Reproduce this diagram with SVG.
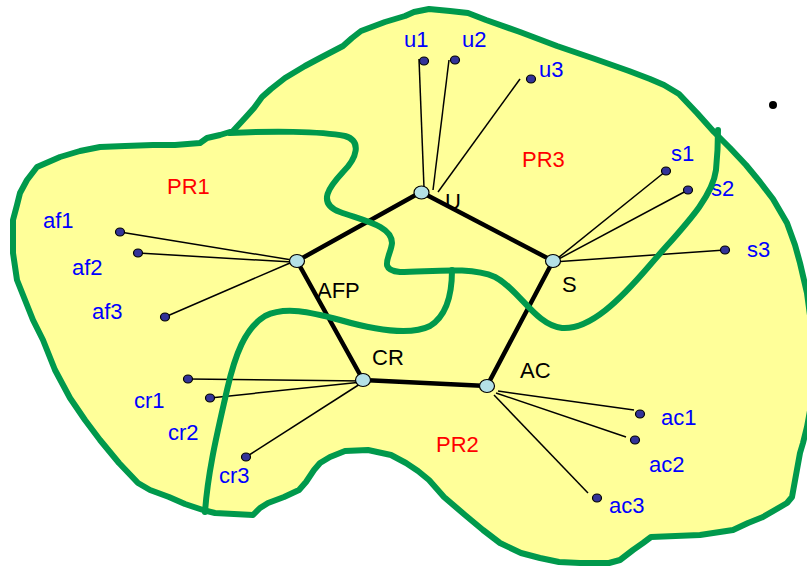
<svg xmlns="http://www.w3.org/2000/svg" width="807" height="571" viewBox="0 0 807 571">
<style>
.lbl{font-family:"Liberation Sans",Arial,sans-serif;font-size:22px}
.leaf{fill:#0000FF}
.pr{fill:#FF0000}
.hub{fill:#000}
.thick{stroke:#000;stroke-width:4.5;fill:none;stroke-linecap:round}
.thin{stroke:#000;stroke-width:1.5;fill:none}
.hubn{fill:#B4E1E6;stroke:#000;stroke-width:1.2}
.dot{fill:#333399;stroke:#000;stroke-width:1.2}
.green{fill:none;stroke:#00994C;stroke-width:6;stroke-linejoin:round;stroke-linecap:round}
</style>
<rect width="807" height="571" fill="#fff"/>
<path id="region-fill" fill="#FFFF99" d="M233,131 L245,118 L254,108 L262,97 L271,89 L285,78 L305,66 L320,58 L343,46 L352,38 L361,31 L385,22 L405,16 L414,12 L429,9 L450,11 L468,13 L486,20 L520,32 L557,46 L595,59 L629,71 L650,79 L664,85 L679,94 L697,113 L714,132 L730,148 L746,165 L760,182 L773,199 L787,223 L795,245 L800,263 L807,293 L812,330 L812,400 L807,427 L803,443 L800,453 L796,475 L792,497 L787,503 L763,517 L748,523 L733,530 L700,535 L651,537 L643,543 L633,550 L620,560 L609,563 L580,563 L559,562 L540,558 L521,553 L500,543 L483,530 L465,515 L444,497 L429,480 L418,471 L406,463 L391,455 L368,450 L345,451 L330,457 L320,463 L314,470 L306,482 L299,490 L284,497 L268,503 L260,508 L253,515 L215,513 L203,510 L185,504 L169,497 L150,490 L138,483 L119,463 L100,440 L85,420 L70,398 L55,370 L43,340 L33,320 L25,300 L17,280 L13,253 L13,220 L17,205 L20,193 L27,180 L37,167 L60,157 L80,151 L100,147 L125,146 L153,145 L175,145 L200,143 L207,138 L220,135 Z"/>
<g id="labels">
<text class="lbl pr" x="167" y="194">PR1</text>
<text class="lbl pr" x="522" y="167">PR3</text>
<text class="lbl pr" x="436" y="452">PR2</text>
<text class="lbl hub" x="445" y="209">U</text>
<text class="lbl hub" x="317" y="298">AFP</text>
<text class="lbl hub" x="562" y="292">S</text>
<text class="lbl hub" x="372" y="365">CR</text>
<text class="lbl hub" x="520" y="378">AC</text>
</g>
<g id="leaf-labels">
<text class="lbl leaf" x="404" y="47">u1</text>
<text class="lbl leaf" x="462" y="47">u2</text>
<text class="lbl leaf" x="539" y="77">u3</text>
<text class="lbl leaf" x="43" y="228">af1</text>
<text class="lbl leaf" x="72" y="275">af2</text>
<text class="lbl leaf" x="92" y="319">af3</text>
<text class="lbl leaf" x="671" y="161">s1</text>
<text class="lbl leaf" x="711" y="196">s2</text>
<text class="lbl leaf" x="747" y="257">s3</text>
<text class="lbl leaf" x="134" y="408">cr1</text>
<text class="lbl leaf" x="168" y="440">cr2</text>
<text class="lbl leaf" x="219" y="483">cr3</text>
<text class="lbl leaf" x="661" y="425">ac1</text>
<text class="lbl leaf" x="649" y="472">ac2</text>
<text class="lbl leaf" x="609" y="513">ac3</text>
</g>
<g id="connectors">
<line class="thick" x1="421" y1="192" x2="297" y2="261"/>
<line class="thick" x1="421" y1="192" x2="553" y2="261"/>
<line class="thick" x1="297" y1="261" x2="363" y2="380"/>
<line class="thick" x1="553" y1="261" x2="487" y2="386"/>
<line class="thick" x1="363" y1="380" x2="487" y2="386"/>
<line class="thin" x1="419" y1="59" x2="424" y2="188"/>
<line class="thin" x1="449" y1="60" x2="433" y2="190"/>
<line class="thin" x1="520" y1="79" x2="438" y2="192"/>
<line class="thin" x1="120" y1="232" x2="292" y2="260"/>
<line class="thin" x1="138" y1="253" x2="292" y2="262"/>
<line class="thin" x1="165" y1="317" x2="290" y2="263"/>
<line class="thin" x1="553" y1="262" x2="666" y2="171"/>
<line class="thin" x1="553" y1="262" x2="688" y2="190"/>
<line class="thin" x1="553" y1="262" x2="725" y2="250"/>
<line class="thin" x1="188" y1="379" x2="363" y2="381"/>
<line class="thin" x1="210" y1="398" x2="362" y2="382"/>
<line class="thin" x1="246" y1="457" x2="360" y2="384"/>
<line class="thin" x1="498" y1="391" x2="634" y2="410"/>
<line class="thin" x1="496" y1="393" x2="626" y2="437"/>
<line class="thin" x1="494" y1="395" x2="588" y2="493"/>
</g>
<g id="leaves">
<ellipse id="u1" class="dot" cx="424" cy="61" rx="4.5" ry="4"/>
<ellipse id="u2" class="dot" cx="455" cy="60" rx="4.5" ry="4"/>
<ellipse id="u3" class="dot" cx="531" cy="79" rx="4.5" ry="4"/>
<ellipse id="af1" class="dot" cx="120" cy="232" rx="4.5" ry="4"/>
<ellipse id="af2" class="dot" cx="138" cy="253" rx="4.5" ry="4"/>
<ellipse id="af3" class="dot" cx="165" cy="317" rx="4.5" ry="4"/>
<ellipse id="s1" class="dot" cx="666" cy="171" rx="4.5" ry="4"/>
<ellipse id="s2" class="dot" cx="688" cy="190" rx="4.5" ry="4"/>
<ellipse id="s3" class="dot" cx="725" cy="250" rx="4.5" ry="4"/>
<ellipse id="cr1" class="dot" cx="188" cy="379" rx="4.5" ry="4"/>
<ellipse id="cr2" class="dot" cx="210" cy="398" rx="4.5" ry="4"/>
<ellipse id="cr3" class="dot" cx="246" cy="457" rx="4.5" ry="4"/>
<ellipse id="ac1" class="dot" cx="640" cy="414" rx="4.5" ry="4"/>
<ellipse id="ac2" class="dot" cx="635" cy="440" rx="4.5" ry="4"/>
<ellipse id="ac3" class="dot" cx="597" cy="498" rx="4.5" ry="4"/>
</g>
<g id="U"><ellipse class="hubn" cx="421.5" cy="192.5" rx="7.5" ry="6.5"/></g>
<g id="AFP"><ellipse class="hubn" cx="297" cy="261" rx="7.5" ry="6.5"/></g>
<g id="S"><ellipse class="hubn" cx="553" cy="261" rx="7.5" ry="6.5"/></g>
<g id="CR"><ellipse class="hubn" cx="363" cy="380" rx="7.5" ry="6.5"/></g>
<g id="AC"><ellipse class="hubn" cx="487" cy="386" rx="7.5" ry="6.5"/></g>
<g id="regions">
<path class="green" d="M233,131 L245,118 L254,108 L262,97 L271,89 L285,78 L305,66 L320,58 L343,46 L352,38 L361,31 L385,22 L405,16 L414,12 L429,9 L450,11 L468,13 L486,20 L520,32 L557,46 L595,59 L629,71 L650,79 L664,85 L679,94 L697,113 L714,132 L730,148 L746,165 L760,182 L773,199 L787,223 L795,245 L800,263 L807,293 L812,330 L812,400 L807,427 L803,443 L800,453 L796,475 L792,497 L787,503 L763,517 L748,523 L733,530 L700,535 L651,537 L643,543 L633,550 L620,560 L609,563 L580,563 L559,562 L540,558 L521,553 L500,543 L483,530 L465,515 L444,497 L429,480 L418,471 L406,463 L391,455 L368,450 L345,451 L330,457 L320,463 L314,470 L306,482 L299,490 L284,497 L268,503 L260,508 L253,515 L215,513 L203,510 L185,504 L169,497 L150,490 L138,483 L119,463 L100,440 L85,420 L70,398 L55,370 L43,340 L33,320 L25,300 L17,280 L13,253 L13,220 L17,205 L20,193 L27,180 L37,167 L60,157 L80,151 L100,147 L125,146 L153,145 L175,145 L200,143 L207,138 L220,135 Z"/>
<path class="green" d="M230,133 C270,131 320,131 345,136 C362,141 357,158 343,172 C330,186 316,203 340,212 C365,221 392,226 392,243 C391,256 377,270 400,272 C430,272 470,266 495,277 C520,290 535,325 562,328 C590,330 620,300 650,265 C680,230 712,200 716,170 C718,150 718,140 718,130"/>
<path class="green" d="M452,270 C452,290 448,315 430,326 C410,336 375,330 340,320 C310,312 285,306 265,316 C245,328 235,355 227,390 C218,430 208,470 205,512"/>
</g>
<circle cx="773" cy="105" r="4" fill="#000"/>
</svg>
